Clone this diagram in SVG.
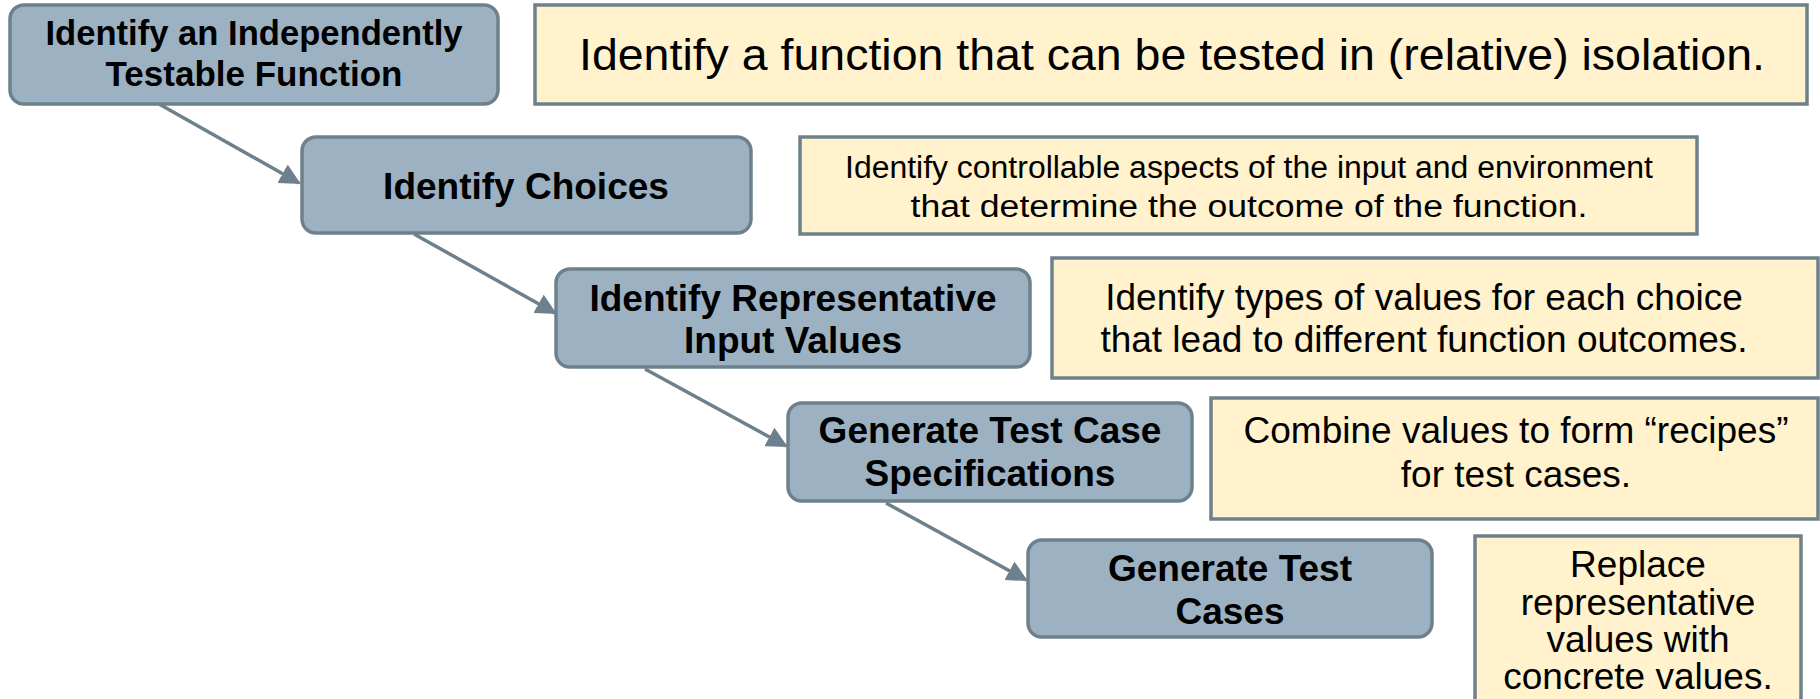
<svg xmlns="http://www.w3.org/2000/svg" width="1820" height="699" viewBox="0 0 1820 699">
<defs>
<style>
.step{fill:#9cb2c2;stroke:#6e808b;stroke-width:3.5}
.note{fill:#fff2cc;stroke:#6e808b;stroke-width:3.5}
.st{font-family:"Liberation Sans",Arial,sans-serif;font-weight:bold;font-size:37px;fill:#000;text-anchor:middle}
.nt{font-family:"Liberation Sans",Arial,sans-serif;font-size:37px;fill:#000;text-anchor:middle}
.conn{stroke:#6e808b;stroke-width:3.5;fill:none;marker-end:url(#ah)}
</style>
<marker id="ah" viewBox="0 0 10 10" refX="9" refY="5" markerWidth="6" markerHeight="6" markerUnits="strokeWidth" orient="auto">
<path d="M0,0 L10,5 L0,10 z" fill="#6e808b"/>
</marker>
</defs>
<rect width="1820" height="699" fill="#fff"/>
<g id="connectors">
<line class="conn" x1="159" y1="104" x2="299" y2="183"/>
<line class="conn" x1="414" y1="234" x2="555" y2="313"/>
<line class="conn" x1="645" y1="369" x2="786" y2="446"/>
<line class="conn" x1="886" y1="503" x2="1026" y2="580"/>
</g>
<g id="step1">
<rect class="step" x="10" y="5" width="488" height="99" rx="14"/>
<text class="st" x="254" y="45" style="font-size:35px" textLength="417" lengthAdjust="spacingAndGlyphs">Identify an Independently</text>
<text class="st" x="254" y="86" style="font-size:35px">Testable Function</text>
</g>
<g id="note1">
<rect class="note" x="535" y="5" width="1272" height="99"/>
<text class="nt" x="1172" y="70" style="font-size:44px" textLength="1186" lengthAdjust="spacingAndGlyphs">Identify a function that can be tested in (relative) isolation.</text>
</g>
<g id="step2">
<rect class="step" x="302" y="137" width="449" height="96" rx="14"/>
<text class="st" x="526" y="199">Identify Choices</text>
</g>
<g id="note2">
<rect class="note" x="800" y="137" width="897" height="97"/>
<text class="nt" x="1249" y="178" style="font-size:31px" textLength="808" lengthAdjust="spacingAndGlyphs">Identify controllable aspects of the input and environment</text>
<text class="nt" x="1249" y="217" style="font-size:31px" textLength="677" lengthAdjust="spacingAndGlyphs">that determine the outcome of the function.</text>
</g>
<g id="step3">
<rect class="step" x="556" y="269" width="474" height="98" rx="14"/>
<text class="st" x="793" y="311">Identify Representative</text>
<text class="st" x="793" y="353">Input Values</text>
</g>
<g id="note3">
<rect class="note" x="1052" y="258" width="766" height="120"/>
<text class="nt" x="1424" y="310">Identify types of values for each choice</text>
<text class="nt" x="1424" y="352">that lead to different function outcomes.</text>
</g>
<g id="step4">
<rect class="step" x="788" y="403" width="404" height="98" rx="14"/>
<text class="st" x="990" y="443">Generate Test Case</text>
<text class="st" x="990" y="486">Specifications</text>
</g>
<g id="note4">
<rect class="note" x="1211" y="398" width="607" height="121"/>
<text class="nt" x="1516" y="443">Combine values to form “recipes”</text>
<text class="nt" x="1516" y="487">for test cases.</text>
</g>
<g id="step5">
<rect class="step" x="1028" y="540" width="404" height="97" rx="14"/>
<text class="st" x="1230" y="581">Generate Test</text>
<text class="st" x="1230" y="624">Cases</text>
</g>
<g id="note5">
<rect class="note" x="1475" y="536" width="326" height="180"/>
<text class="nt" x="1638" y="577">Replace</text>
<text class="nt" x="1638" y="615">representative</text>
<text class="nt" x="1638" y="652">values with</text>
<text class="nt" x="1638" y="689">concrete values.</text>
</g>
</svg>
